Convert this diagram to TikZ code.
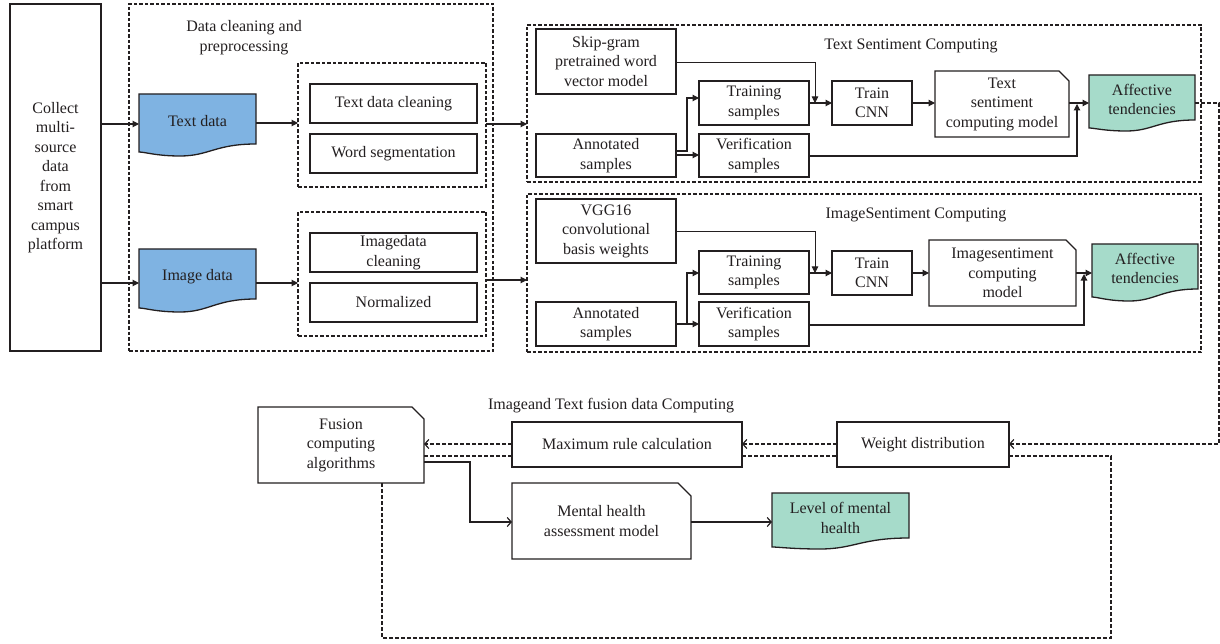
\documentclass[tikz,border=0pt]{standalone}
\usepackage{fontspec}
\setmainfont{Liberation Serif}
\usetikzlibrary{arrows.meta,calc}
\definecolor{blueF}{RGB}{127,179,226}
\definecolor{greenF}{RGB}{166,219,202}
\definecolor{ink}{RGB}{35,31,32}
\newcommand\myfs{\fontsize{16}{19.5}\selectfont}
\tikzset{
  every node/.style={font=\myfs, text=ink, align=center},
  box/.style={draw=ink, line width=1.3pt, fill=white, inner sep=1pt, outer sep=0pt},
  cont/.style={draw=ink, line width=1.3pt, dash pattern=on 3.5pt off 2pt, fill=none, inner sep=0pt, outer sep=0pt},
  ghost/.style={draw=none, inner sep=1pt, outer sep=0pt},
  shp/.style={draw=ink, line width=1.3pt},
  ttl/.style={inner sep=1pt},
  arr/.style={line width=1.1pt, draw=ink, -{Triangle[length=6.5pt,width=6.5pt]}},
  darr/.style={line width=1.2pt, draw=ink, dash pattern=on 4pt off 2pt, -{Straight Barb[length=4pt,width=9pt]}},
  dline/.style={line width=1.2pt, draw=ink, dash pattern=on 4pt off 2pt},
  oarr/.style={line width=1.2pt, draw=ink, -{Straight Barb[length=4pt,width=9pt]}},
}
% box: opts, name, L, T, R, B, text
\newcommand\bx[7][]{\node[box,#1,minimum width={(#5-#3)*1pt},minimum height={(#6-#4)*1pt}] (#2) at ({(#3+#5)/2},{(#4+#6)/2}) {#7};}
% note box: opts, name, L, T, R, B, chamfer, text
\newcommand\notebx[8][]{%
  \path[shp,fill=white] (#3,#4) -- ({#5-#7},#4) -- (#5,{#4+#7}) -- (#5,#6) -- (#3,#6) -- cycle;
  \node[ghost,#1,minimum width={(#5-#3)*1pt},minimum height={(#6-#4)*1pt}] (#2) at ({(#3+#5)/2},{(#4+#6)/2}) {#8};}
% document: name, L, T, R, Rb, Lb, Min, colour, text
\newcommand\docbx[9]{%
  \path[shp,fill=#8] (#2,#3) -- (#4,#3) -- (#4,#5)
    .. controls ({#4-0.35*(#4-#2)},#5) and ({#2+0.6*(#4-#2)},#7) .. ({#2+0.35*(#4-#2)},#7)
    .. controls ({#2+0.15*(#4-#2)},#7) and ({#2+0.05*(#4-#2)},#6) .. (#2,#6) -- cycle;
  \node[ghost,minimum width={(#4-#2)*1pt},minimum height={((#5+#6)/2-#3)*1pt}] (#1) at ({(#2+#4)/2},{(#3+(#5+#6)/2)/2}) {#9};}
\begin{document}
\begin{tikzpicture}[x=1pt,y=-1pt]
\useasboundingbox (0,0) rectangle (1220,644);
% ---------- left part
\bx{collect}{10}{4}{101}{351}{Collect\\multi-\\source\\data\\from\\smart\\campus\\platform}
\bx[cont]{dc}{129}{4}{493}{351}{}
\node[ttl] (dct) at (244,37.5) {Data cleaning and\\preprocessing};
\docbx{td}{139}{94}{256}{144}{152}{156}{blueF}{Text data}
\docbx{id}{139}{249}{256}{299}{308}{312}{blueF}{Image data}
\bx[cont]{in1}{298}{63}{486}{187}{}
\bx{tdc}{310}{84}{477}{123}{Text data cleaning}
\bx{ws}{310}{134}{477}{173}{Word segmentation}
\bx[cont]{in2}{298}{212}{486}{336}{}
\bx{idc}{310}{233}{477}{272}{Imagedata\\cleaning}
\bx{norm}{310}{283}{477}{322}{Normalized}
% ---------- text sentiment
\bx[cont]{ts}{527}{25}{1201}{182}{}
\node[ttl] (tst) at (911,46) {Text Sentiment Computing};
\bx{skip}{536}{29}{676}{94}{Skip-gram\\pretrained word\\vector model}
\bx{tr1}{699}{81}{809}{125}{Training\\samples}
\bx{cnn1}{832}{81}{912}{125}{Train\\CNN}
\notebx{tm}{935}{71}{1069}{137}{10}{Text\\sentiment\\computing model}
\docbx{af1}{1089}{75}{1195}{120}{128}{131}{greenF}{Affective\\tendencies}
\bx{an1}{536}{134}{676}{177}{Annotated\\samples}
\bx{ve1}{699}{134}{809}{177}{Verification\\samples}
% ---------- image sentiment
\bx[cont]{is}{527}{194}{1201}{352}{}
\node[ttl] (ist) at (916,215) {ImageSentiment Computing};
\bx{vgg}{536}{199}{676}{263}{VGG16\\convolutional\\basis weights}
\bx{tr2}{699}{251}{809}{294}{Training\\samples}
\bx{cnn2}{832}{251}{912}{295}{Train\\CNN}
\notebx{im}{929}{240}{1076}{306}{10}{Imagesentiment\\computing\\model}
\docbx{af2}{1092}{244}{1198}{289}{297}{301}{greenF}{Affective\\tendencies}
\bx{an2}{536}{302}{676}{346}{Annotated\\samples}
\bx{ve2}{699}{302}{809}{346}{Verification\\samples}
% ---------- fusion part
\notebx{fusion}{258}{407}{424}{483}{12}{Fusion\\computing\\algorithms}
\node[ttl] (fst) at (611,406) {Imageand Text fusion data Computing};
\bx{maxr}{512}{422}{742}{467}{Maximum rule calculation}
\bx{wd}{837}{422}{1009}{467}{Weight distribution}
\notebx{mh}{512}{483}{691}{559}{13}{Mental health\\assessment model}
\docbx{lvl}{772}{493}{909}{538}{547}{549}{greenF}{Level of mental\\health}
% ---------- connectors, left
\draw[arr] (collect.east |- 0,124) -- (td.west |- 0,124);
\draw[arr] (collect.east |- 0,283) -- (id.west |- 0,283);
\draw[arr] (td.east |- 0,123) -- (in1.west |- 0,123);
\draw[arr] (id.east |- 0,283) -- (in2.west |- 0,283);
\draw[arr] (in1.east |- 0,124) -- (ts.west |- 0,124);
\draw[arr] (in2.east |- 0,280) -- (is.west |- 0,280);
% ---------- connectors, text sentiment
\coordinate (j1) at (815,103);
\coordinate (j2) at (1077,104);
\draw[arr,line width=0.8pt] (skip.east |- 0,62) -| (j1);
\draw[arr] (tr1.east |- 0,103) -- (cnn1.west |- 0,103);
\draw[arr] (cnn1.east |- 0,103) -- (tm.west |- 0,103);
\draw[arr] (tm.east |- 0,103) -- (af1.west |- 0,103);
\draw[arr] (an1.east |- 0,151) -- ++(11,0) |- (tr1.west |- 0,98);
\draw[arr] (an1.east |- 0,155) -- (ve1.west |- 0,155);
\draw[arr] (ve1.east |- 0,156) -| (j2);
% ---------- connectors, image sentiment
\coordinate (j3) at (815,273);
\coordinate (j4) at (1084,274);
\draw[arr,line width=0.8pt] (vgg.east |- 0,231) -| (j3);
\draw[arr] (tr2.east |- 0,273) -- (cnn2.west |- 0,273);
\draw[arr] (cnn2.east |- 0,273) -- (im.west |- 0,273);
\draw[arr] (im.east |- 0,273) -- (af2.west |- 0,273);
\draw[arr] (an2.east |- 0,324) -- ++(11,0) |- (tr2.west |- 0,273);
\draw[arr] (an2.east |- 0,324) -- (ve2.west |- 0,324);
\draw[arr] (ve2.east |- 0,325) -| (j4);
% ---------- connectors, fusion
\coordinate (c1) at (1219,103);
\coordinate (c2) at (1111,638);
\draw[darr] (af1.east |- 0,103) -- (c1) |- (wd.east |- 0,444);
\draw[darr] (wd.west |- 0,444) -- (maxr.east |- 0,444);
\draw[darr] (maxr.west |- 0,444) -- (fusion.east |- 0,444);
\draw[dline] (fusion.east |- 0,456) -- (maxr.west |- 0,456);
\draw[dline] (maxr.east |- 0,456) -- (wd.west |- 0,456);
\draw[dline] (wd.east |- 0,456) -| (c2) -| (fusion.south -| 382,0);
\draw[oarr] (fusion.east |- 0,462) -- ++(46,0) |- (mh.west |- 0,522);
\draw[oarr] (mh.east |- 0,522) -- (lvl.west |- 0,522);
\end{tikzpicture}
\end{document}
